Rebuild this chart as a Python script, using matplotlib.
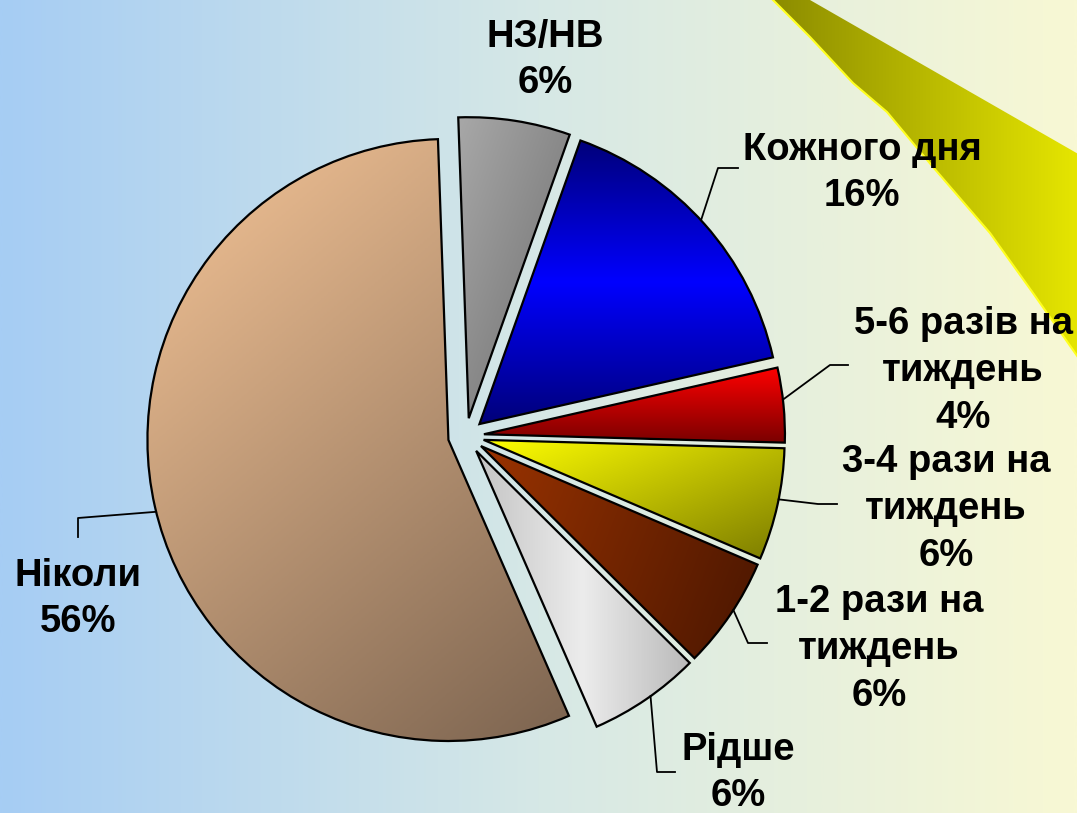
import numpy as np
import matplotlib.pyplot as plt
from matplotlib.colors import LinearSegmentedColormap
from matplotlib.patches import Polygon

# survey answers, clockwise from 12 o'clock
categories = ['НЗ/НВ', 'Кожного дня', '5-6 разів на\nтиждень',
              '3-4 рази на\nтиждень', '1-2 рази на\nтиждень', 'Рідше', 'Ніколи']
shares = [6, 16, 4, 6, 6, 6, 56]
pct_labels = [f'{v}%' for v in shares]

# gradient colours per slice and the direction the gradient runs (x, y)
slice_grads = [
    (['#a8a8a8', '#6c6c6c'], (1.0, -1.0)),
    (['#00007a', '#0000ff', '#00007a'], (0.0, -1.0)),
    (['#ff0000', '#7a0000'], (0.0, -1.0)),
    (['#ffff00', '#7c7c00'], (1.0, -1.0)),
    (['#9a3300', '#4a1600'], (1.0, -0.3)),
    (['#c4c4c4', '#ececec', '#bababa'], (1.0, 0.0)),
    (['#f6c597', '#7c6450'], (0.6, -1.0)),
]

W, H = 1077, 813


def px(x, y):
    # picture pixels (y down) -> axes data (y up)
    return x, H - y


def gradient_fill(ax, patch, colors, direction, zorder, n=300):
    ext = patch.get_path().get_extents()
    x0, y0, x1, y1 = ext.x0, ext.y0, ext.x1, ext.y1
    u, v = np.meshgrid(np.linspace(0, 1, n), np.linspace(0, 1, n))
    t = u * direction[0] + v * direction[1]
    t = (t - t.min()) / (t.max() - t.min())
    cmap = LinearSegmentedColormap.from_list('g', colors)
    im = ax.imshow(cmap(t), extent=(x0, x1, y0, y1), origin='lower',
                   aspect='auto', interpolation='bilinear', zorder=zorder)
    im.set_clip_path(patch)
    return im


fig = plt.figure(figsize=(W / 100, H / 100), dpi=100)
ax = fig.add_axes([0, 0, 1, 1])

# background wash, blue on the left to pale yellow on the right
bg = LinearSegmentedColormap.from_list('bg', ['#a6cdf4', '#d6e8e6', '#f8f8d4'])
ax.imshow(bg(np.linspace(0, 1, 512))[None, :, :], extent=(0, W, 0, H),
          aspect='auto', zorder=0)

# decorative olive/yellow band in the top right corner
band_edge = [(773, 0), (810, 37), (853, 83), (887, 112), (933, 167),
             (990, 233), (1033, 293), (1080, 360)]
band_pts = [px(810, 0), px(1080, 155)] + [px(*p) for p in band_edge[::-1]]
band = Polygon(band_pts, closed=True, facecolor='none', edgecolor='none', zorder=1)
ax.add_patch(band)
gradient_fill(ax, band, ['#8c8c00', '#e6e600'], (1.0, 0.0), zorder=1)
ax.plot([px(*p)[0] for p in band_edge], [px(*p)[1] for p in band_edge],
        color='#ffff20', lw=1.5, zorder=1.5)

# pie (explode is in data units here, i.e. pixels)
cx, cy = px(466, 436)
radius = 301
wedges, _ = ax.pie(shares, startangle=92, counterclock=False,
                   center=(cx, cy), radius=radius, explode=[18] * len(shares),
                   wedgeprops=dict(facecolor='none', edgecolor='black', linewidth=1.6))
for w in wedges:
    w.set_zorder(3)
for w, (cols, d) in zip(wedges, slice_grads):
    gradient_fill(ax, w, cols, d, zorder=2)

# labels: centre of text block and leader elbow/end in picture pixels
label_pos = [(545, 60), (862, 173), (963, 371), (946, 509), (879, 649), (738, 773), (78, 599)]
leaders = [None,
           [(718, 168), (738, 168)],
           [(830, 365), (848, 365)],
           [(818, 504), (837, 504)],
           [(748, 643), (767, 643)],
           [(657, 772), (675, 772)],
           [(78, 518), (78, 537)]]

for w, name, pct, pos, lead in zip(wedges, categories, pct_labels, label_pos, leaders):
    ax.text(*px(*pos), f'{name}\n{pct}', ha='center', va='center',
            multialignment='center', fontsize=27.5, fontweight='bold',
            family='Liberation Sans', linespacing=1.38, zorder=5)
    if lead is None:
        continue
    mid = np.deg2rad((w.theta1 + w.theta2) / 2 + 1)
    sx = w.center[0] + w.r * np.cos(mid)
    sy = w.center[1] + w.r * np.sin(mid)
    xs = [sx] + [px(*p)[0] for p in lead]
    ys = [sy] + [px(*p)[1] for p in lead]
    ax.plot(xs, ys, color='black', lw=1.3, zorder=4)

ax.set_xlim(0, W)
ax.set_ylim(0, H)
ax.set_aspect('auto')
ax.axis('off')

fig.savefig('out.png', dpi=100)
